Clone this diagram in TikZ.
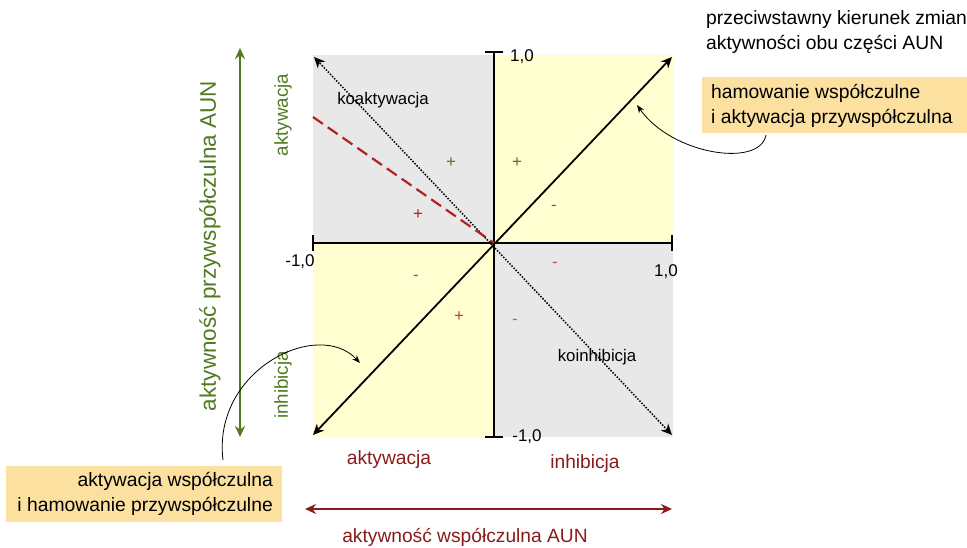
\documentclass[tikz,border=0pt]{standalone}
\usepackage{fontspec}
\setmainfont{Liberation Sans}
\usetikzlibrary{arrows.meta}
\definecolor{qgray}{HTML}{E8E8E8}
\definecolor{qyellow}{HTML}{FFFFD2}
\definecolor{boxfill}{HTML}{FCE0A0}
\definecolor{pgreen}{HTML}{4F7A1F}
\definecolor{sred}{HTML}{8B1A1A}
\definecolor{dashred}{HTML}{B22222}
\tikzset{
  fs/.style={font=\fontsize{#1}{#1}\selectfont, inner sep=0pt},
  tip/.style={-{Stealth[length=10pt,width=9pt]}},
  dtip/.style={{Stealth[length=11pt,width=10pt]}-{Stealth[length=11pt,width=10pt]}},
  note/.style={fill=boxfill, inner sep=0pt},
}
\begin{document}
\begin{tikzpicture}[x=1pt,y=-1pt]
\useasboundingbox (0,0) rectangle (967,548);
% quadrant backgrounds
\fill[qgray] (313,55) rectangle (494,243);
\fill[qyellow] (494,55) rectangle (673,243);
\fill[qyellow] (313,243) rectangle (494,437);
\fill[qgray] (494,243) rectangle (673,437);
% coordinates
\coordinate (O) at (494,243);
\coordinate (L) at (313,243);
\coordinate (R) at (672,243);
\coordinate (T) at (494,52);
\coordinate (B) at (494,437);
\coordinate (TR) at (672,57);
\coordinate (BL) at (313,435);
\coordinate (TL) at (314,57);
\coordinate (BR) at (672,435);
\coordinate (RD) at (313,117);
% axes
\draw[line width=1.8pt] (L) -- (R);
\draw[line width=1.8pt] (T) -- (B);
\draw[line width=1.5pt] (313,235) -- (313,251);
\draw[line width=1.5pt] (672,235) -- (672,251);
\draw[line width=1.5pt] (485,52) -- (503,52);
\draw[line width=1.5pt] (485,437) -- (503,437);
% diagonals
\draw[dtip, line width=1.8pt] (BL) -- (TR);
\draw[dtip, line width=1.5pt, dash pattern=on 1.5pt off 1.5pt] (BR) -- (TL);
\draw[dashred, line width=2.2pt, dash pattern=on 12pt off 6pt] (RD) -- (O);
% axis numbers
\node[fs=17] (n1) at (522,57) {1,0};
\node[fs=17] (n2) at (300,262) {-1,0};
\node[fs=17] (n3) at (666,272) {1,0};
\node[fs=17] (n4) at (527,437) {-1,0};
% region labels
\node[fs=16.8] (koa) at (383,100) {koaktywacja};
\node[fs=16.8] (koi) at (597,357) {koinhibicja};
% signs
\node[fs=17, text=pgreen] (s1) at (451,163) {+};
\node[fs=17, text=pgreen] (s2) at (517,163) {+};
\node[fs=17, text=dashred] (s3) at (418,215) {+};
\node[fs=17, text={rgb,255:red,130;green,95;blue,60}] (s4) at (554,208) {-};
\node[fs=17, text={rgb,255:red,70;green,120;blue,110}] (s5) at (416,278) {-};
\node[fs=17, text={rgb,255:red,200;green,80;blue,110}] (s6) at (555,265) {-};
\node[fs=17, text={rgb,255:red,190;green,70;blue,30}] (s7) at (459,317) {+};
\node[fs=17, text={rgb,255:red,130;green,130;blue,100}] (s8) at (515,322) {-};
% vertical (parasympathetic) axis
\coordinate (gt) at (240,48);
\coordinate (gb) at (240,437);
\draw[dtip, pgreen, line width=1.8pt] (gb) -- (gt);
\node[fs=22.5, text=pgreen, rotate=90] (pl) at (210,246) {aktywność przywspółczulna AUN};
\node[fs=18.7, text=pgreen, rotate=90] (pa) at (283,115) {aktywacja};
\node[fs=18.7, text=pgreen, rotate=90] (pi) at (283,385) {inhibicja};
% horizontal (sympathetic) axis
\coordinate (hl) at (305,509);
\coordinate (hr) at (672,509);
\draw[dtip, sred, line width=1.8pt] (hl) -- (hr);
\node[fs=19.2, text=sred] (sl) at (465,537) {aktywność współczulna AUN};
\node[fs=19.2, text=sred] (sa) at (389,460) {aktywacja};
\node[fs=19.2, text=sred] (si) at (585,464) {inhibicja};
% top right note
\node[fs=19.3, anchor=west, align=left] (tn) at (706,32) {przeciwstawny kierunek zmian\\[5pt]aktywności obu części AUN};
\fill[boxfill] (702,77) rectangle (967,133);
\node[fs=19.3, anchor=west, align=left] (b1) at (711,106) {hamowanie współczulne\\[5pt]i aktywacja przywspółczulna};
\fill[boxfill] (6,466) rectangle (282,522);
\node[fs=19.3, anchor=east, align=right] (b2) at (273,494) {aktywacja współczulna\\[5pt]i hamowanie przywspółczulne};
% curved pointers
\coordinate (c1s) at (766,135);
\coordinate (c1e) at (637,105);
\draw[-{Stealth[length=8pt,width=6pt]}, line width=0.8pt] (c1s) .. controls (760,168) and (672,155) .. (c1e);
\coordinate (c2s) at (223,460);
\coordinate (c2e) at (360,363);
\draw[-{Stealth[length=8pt,width=6pt]}, line width=0.8pt] (c2s) .. controls (212,370) and (318,318) .. (c2e);
\end{tikzpicture}
\end{document}
